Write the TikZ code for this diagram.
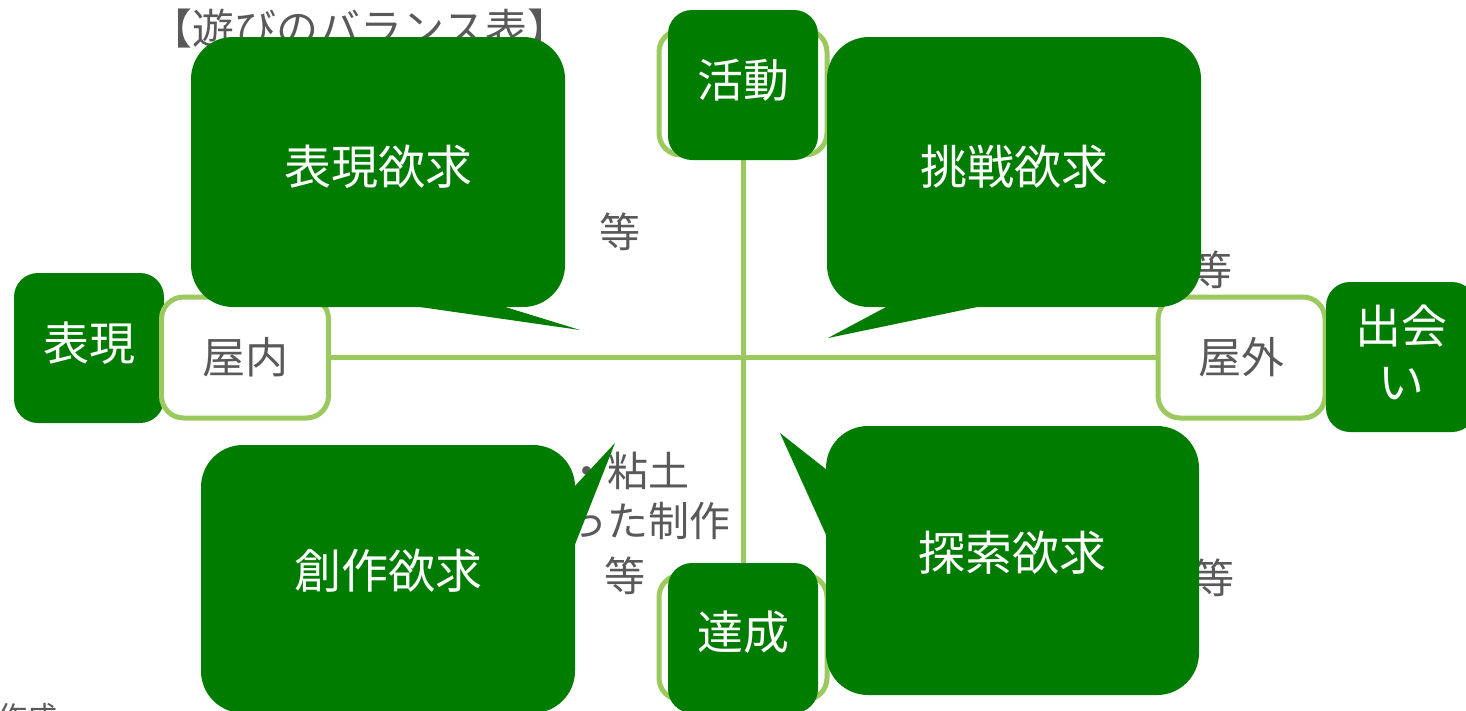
\documentclass[tikz,border=0pt]{standalone}
\usepackage{fontspec}
\setmainfont{Noto Sans CJK JP}
\definecolor{dkgreen}{HTML}{007C00}
\definecolor{ltgreen}{HTML}{9BC95E}
\definecolor{txtgray}{HTML}{595959}
\tikzset{
  darkbox/.style={fill=dkgreen, rounded corners=24pt, inner sep=0pt},
  boxtext/.style={text=white, font=\fontsize{46}{56}\selectfont, align=center, inner sep=0pt},
  outlinebox/.style={draw=ltgreen, line width=5pt, fill=white, rounded corners=22pt, inner sep=0pt},
  bubblebox/.style={fill=dkgreen, rounded corners=42pt, inner sep=0pt},
  bubbletext/.style={text=white, font=\fontsize{47}{52}\selectfont},
  graytext/.style={text=txtgray, font=\fontsize{41}{48}\selectfont, inner sep=0pt},
  axis/.style={draw=ltgreen, line width=5pt},
  tail/.style={fill=dkgreen, draw=none}
}
\begin{document}
\begin{tikzpicture}[x=1pt,y=-1pt]
\useasboundingbox (0,0) rectangle (1466,710);
% title and gray labels (behind bubbles)
\node[graytext, anchor=west, font=\fontsize{42}{48}\selectfont] (title) at (150,29) {【遊びのバランス表】};
\node[graytext] (t1) at (620,232) {等};
\node[graytext] (t2) at (1212,270) {等};
\node[graytext, anchor=east] (t3) at (690,471) {・粘土};
\node[graytext, anchor=east] (t4) at (731,521) {った制作};
\node[graytext] (t5) at (625,576) {等};
\node[graytext] (t6) at (1214,578) {等};
\node[graytext, anchor=east, font=\fontsize{30}{34}\selectfont] (t7) at (58,717) {作成};
% axis end boxes
\node[outlinebox, minimum width=167pt, minimum height=121pt] (out) at (1241.5,357.5) {};
\node[outlinebox, minimum width=168pt, minimum height=125pt] (acto) at (743,92.5) {};
\node[outlinebox, minimum width=168pt, minimum height=125pt] (achvo) at (743,637.5) {};
\node[darkbox, minimum width=150pt, minimum height=150pt] (expr) at (89,348) {};
\node[boxtext] at (89,343) {表現};
\node[outlinebox, minimum width=167pt, minimum height=121pt] (in) at (245,357.5) {};
% axes
\draw[axis] (in.east) -- (out.west);
\draw[axis] (acto.south) -- (achvo.north);
\node[graytext, font=\fontsize{43}{48}\selectfont] at (in.center) {屋内};
\node[graytext, font=\fontsize{43}{48}\selectfont] at (out.center) {屋外};
% dark boxes
\node[darkbox, minimum width=150pt, minimum height=150pt] (act) at (743,85) {};
\node[boxtext] at (743,80) {活動};
\node[darkbox, minimum width=150pt, minimum height=150pt] (achv) at (743,638) {};
\node[boxtext] at (743,632) {達成};
\node[darkbox, minimum width=150pt, minimum height=150pt] (meet) at (1401,357) {};
\node[boxtext] at (1401,352) {出会\\い};
% bubbles
\node[bubblebox, minimum width=374pt, minimum height=270pt] (b1) at (378,172) {};
\fill[tail] (413,306) -- (502,306) -- (580,330) -- cycle;
\node[bubbletext] at (378,167) {表現欲求};
\node[bubblebox, minimum width=374pt, minimum height=270pt] (b2) at (1014,172) {};
\fill[tail] (888,306) -- (982,306) -- (828,338) -- cycle;
\node[bubbletext] at (1014,167) {挑戦欲求};
\node[bubblebox, minimum width=374pt, minimum height=268pt] (b3) at (388,579) {};
\fill[tail] (574,487) -- (615,443) -- (574,547) -- cycle;
\node[bubbletext] at (388,571) {創作欲求};
\node[bubblebox, minimum width=373pt, minimum height=269pt] (b4) at (1012.5,560.5) {};
\fill[tail] (827,470) -- (780,433) -- (827,537) -- cycle;
\node[bubbletext] at (1012,553) {探索欲求};
\end{tikzpicture}
\end{document}
